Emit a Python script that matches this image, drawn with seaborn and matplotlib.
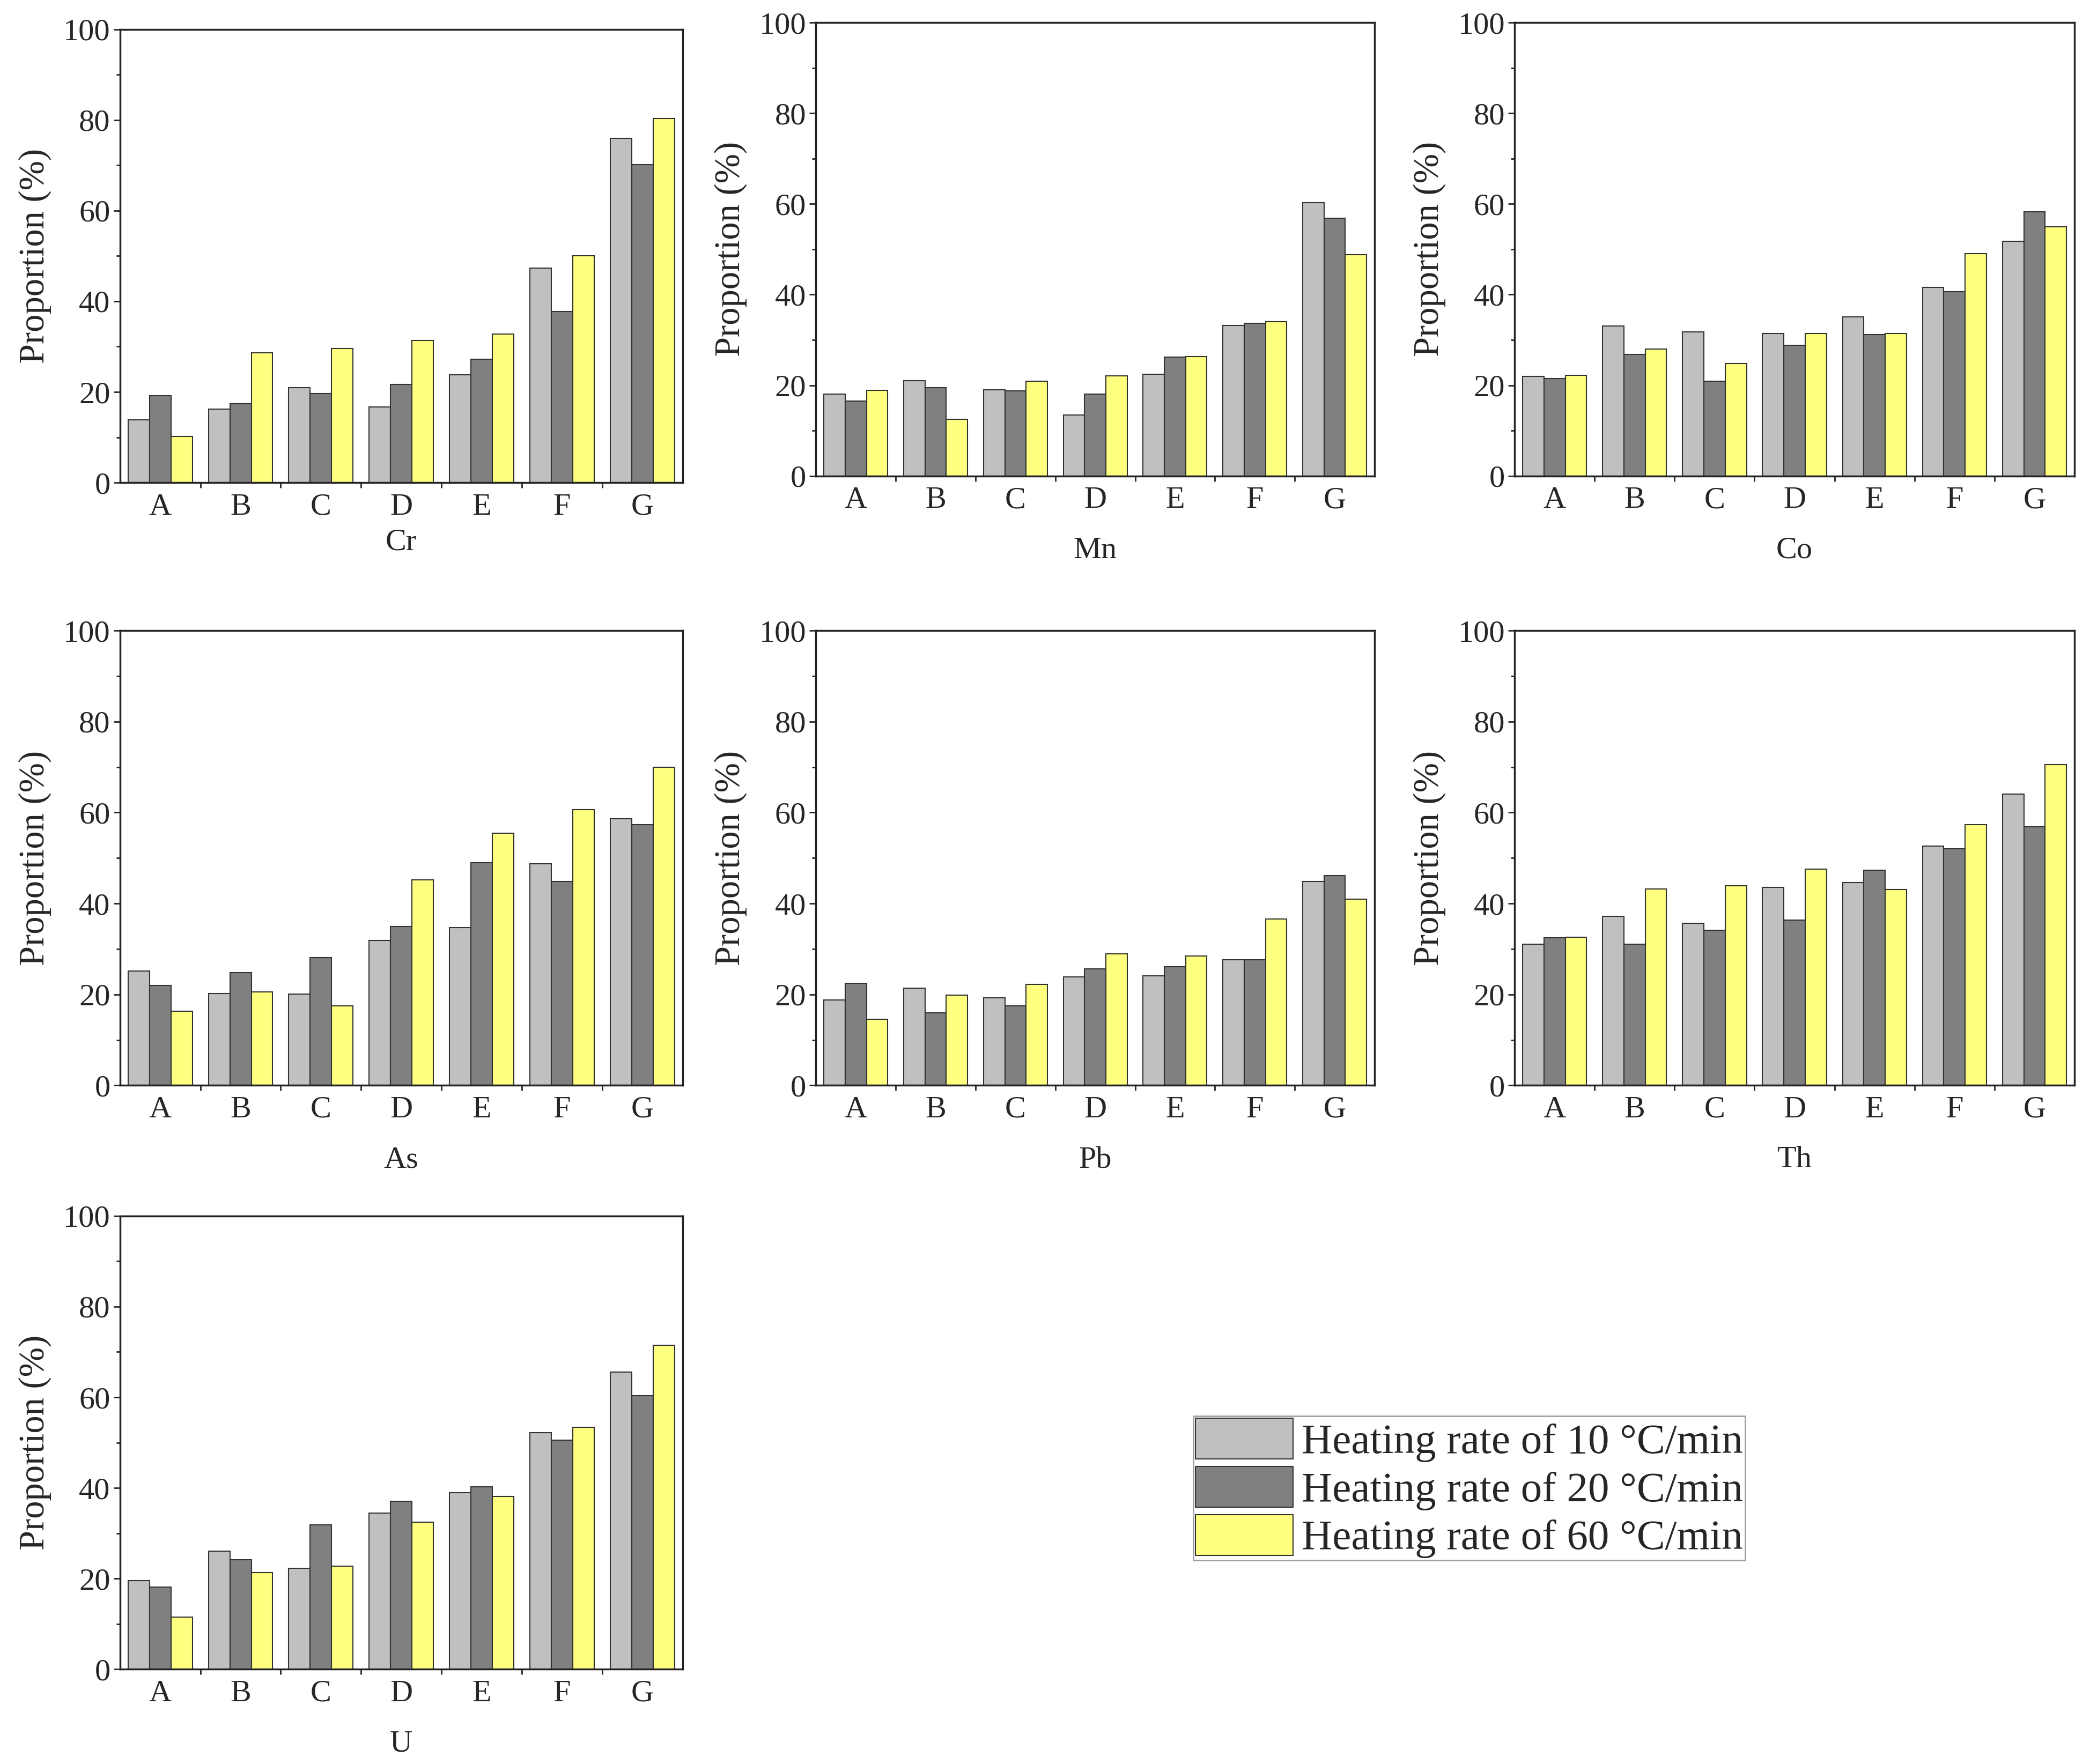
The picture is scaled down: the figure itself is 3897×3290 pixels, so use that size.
import pandas as pd
import seaborn as sns
import matplotlib.pyplot as plt
from matplotlib.ticker import MultipleLocator, FixedLocator, NullFormatter

# sites on the x axis and the three heating rates
sites = ["A", "B", "C", "D", "E", "F", "G"]
rates = ["Heating rate of 10 \u00b0C/min", "Heating rate of 20 \u00b0C/min",
         "Heating rate of 60 \u00b0C/min"]
elements = ["Cr", "Mn", "Co", "As", "Pb", "Th", "U"]

# proportion (%), one list per element and rate
cr_10 = [13.9, 16.2, 21.0, 16.7, 23.8, 47.3, 76.0]
cr_20 = [19.2, 17.4, 19.7, 21.7, 27.2, 37.8, 70.1]
cr_60 = [10.2, 28.6, 29.6, 31.4, 32.8, 50.1, 80.3]

mn_10 = [18.1, 21.0, 19.0, 13.4, 22.4, 33.2, 60.3]
mn_20 = [16.5, 19.5, 18.8, 18.1, 26.2, 33.7, 56.9]
mn_60 = [18.9, 12.5, 20.9, 22.1, 26.3, 34.0, 48.8]

co_10 = [22.0, 33.1, 31.8, 31.4, 35.1, 41.6, 51.8]
co_20 = [21.5, 26.8, 20.9, 28.8, 31.2, 40.7, 58.3]
co_60 = [22.2, 28.0, 24.8, 31.4, 31.4, 49.0, 55.0]

as_10 = [25.1, 20.2, 20.1, 31.9, 34.7, 48.7, 58.6]
as_20 = [22.0, 24.8, 28.1, 34.9, 49.0, 44.8, 57.3]
as_60 = [16.3, 20.5, 17.5, 45.2, 55.4, 60.7, 70.0]

pb_10 = [18.8, 21.4, 19.3, 23.9, 24.1, 27.6, 44.8]
pb_20 = [22.4, 16.0, 17.5, 25.6, 26.1, 27.6, 46.1]
pb_60 = [14.6, 19.8, 22.2, 28.9, 28.5, 36.6, 40.9]

th_10 = [31.0, 37.2, 35.7, 43.6, 44.6, 52.6, 64.1]
th_20 = [32.5, 31.0, 34.1, 36.4, 47.3, 52.0, 56.9]
th_60 = [32.6, 43.2, 43.9, 47.6, 43.1, 57.3, 70.5]

u_10 = [19.5, 26.1, 22.3, 34.4, 39.0, 52.2, 65.6]
u_20 = [18.1, 24.2, 31.9, 37.0, 40.2, 50.5, 60.3]
u_60 = [11.5, 21.3, 22.7, 32.5, 38.1, 53.4, 71.5]

series = {
    "Cr": (cr_10, cr_20, cr_60),
    "Mn": (mn_10, mn_20, mn_60),
    "Co": (co_10, co_20, co_60),
    "As": (as_10, as_20, as_60),
    "Pb": (pb_10, pb_20, pb_60),
    "Th": (th_10, th_20, th_60),
    "U": (u_10, u_20, u_60),
}

colors = ["#C0C0C0", "#808080", "#FFFF80"]

sns.set_style("ticks")
plt.rcParams["font.family"] = ["Liberation Serif", "DejaVu Serif"]
plt.rcParams["axes.linewidth"] = 2.5

fig = plt.figure(figsize=(38.98, 32.90), dpi=100)

# panel boxes [left, bottom, width, height] in figure fraction
boxes = {
    "Cr": [0.0574, 0.7264, 0.2691, 0.2570],
    "Mn": [0.3903, 0.7302, 0.2672, 0.2570],
    "Co": [0.7245, 0.7302, 0.2678, 0.2570],
    "As": [0.0574, 0.3847, 0.2691, 0.2578],
    "Pb": [0.3903, 0.3847, 0.2672, 0.2578],
    "Th": [0.7245, 0.3847, 0.2678, 0.2578],
    "U": [0.0574, 0.0537, 0.2691, 0.2570],
}

handles = None
for el in elements:
    rows = []
    for rate, vals in zip(rates, series[el]):
        for s, v in zip(sites, vals):
            rows.append({"site": s, "rate": rate, "value": v})
    df = pd.DataFrame(rows)

    ax = fig.add_axes(boxes[el])
    sns.barplot(data=df, x="site", y="value", hue="rate", palette=colors,
                saturation=1, width=0.8, edgecolor="#333333", linewidth=1.5,
                errorbar=None, ax=ax, legend=(handles is None))
    if handles is None:
        handles, labels = ax.get_legend_handles_labels()
        ax.legend_.remove()

    ax.set_xlim(-0.5, 6.5)
    ax.set_ylim(0, 100)
    ax.yaxis.set_major_locator(MultipleLocator(20))
    ax.yaxis.set_minor_locator(MultipleLocator(10))
    ax.xaxis.set_minor_locator(FixedLocator([0.5, 1.5, 2.5, 3.5, 4.5, 5.5]))
    ax.xaxis.set_minor_formatter(NullFormatter())
    ax.tick_params(axis="x", which="major", length=0, pad=14, labelsize=42)
    ax.tick_params(axis="x", which="minor", length=7, width=2, direction="out")
    ax.tick_params(axis="y", which="major", length=9, width=2, pad=4, labelsize=42)
    ax.tick_params(axis="y", which="minor", length=5, width=2)
    for sp in ax.spines.values():
        sp.set_color("#222222")
        sp.set_visible(True)

    ax.set_ylabel("Proportion (%)", fontsize=48, labelpad=16)
    ax.set_xlabel(el, fontsize=42, labelpad=10 if el == "Cr" else 30)

# shared legend in the empty lower right area
leg = fig.legend(handles, labels, loc="upper left", bbox_to_anchor=(0.5708, 0.1973),
                 fontsize=57, frameon=True, fancybox=False, borderpad=0.05,
                 borderaxespad=0, handlelength=2.3, handleheight=1.1,
                 labelspacing=0.1, handletextpad=0.2)
leg.get_frame().set_edgecolor("#888888")
leg.get_frame().set_linewidth(2)

plt.savefig("out.png", dpi=100)
